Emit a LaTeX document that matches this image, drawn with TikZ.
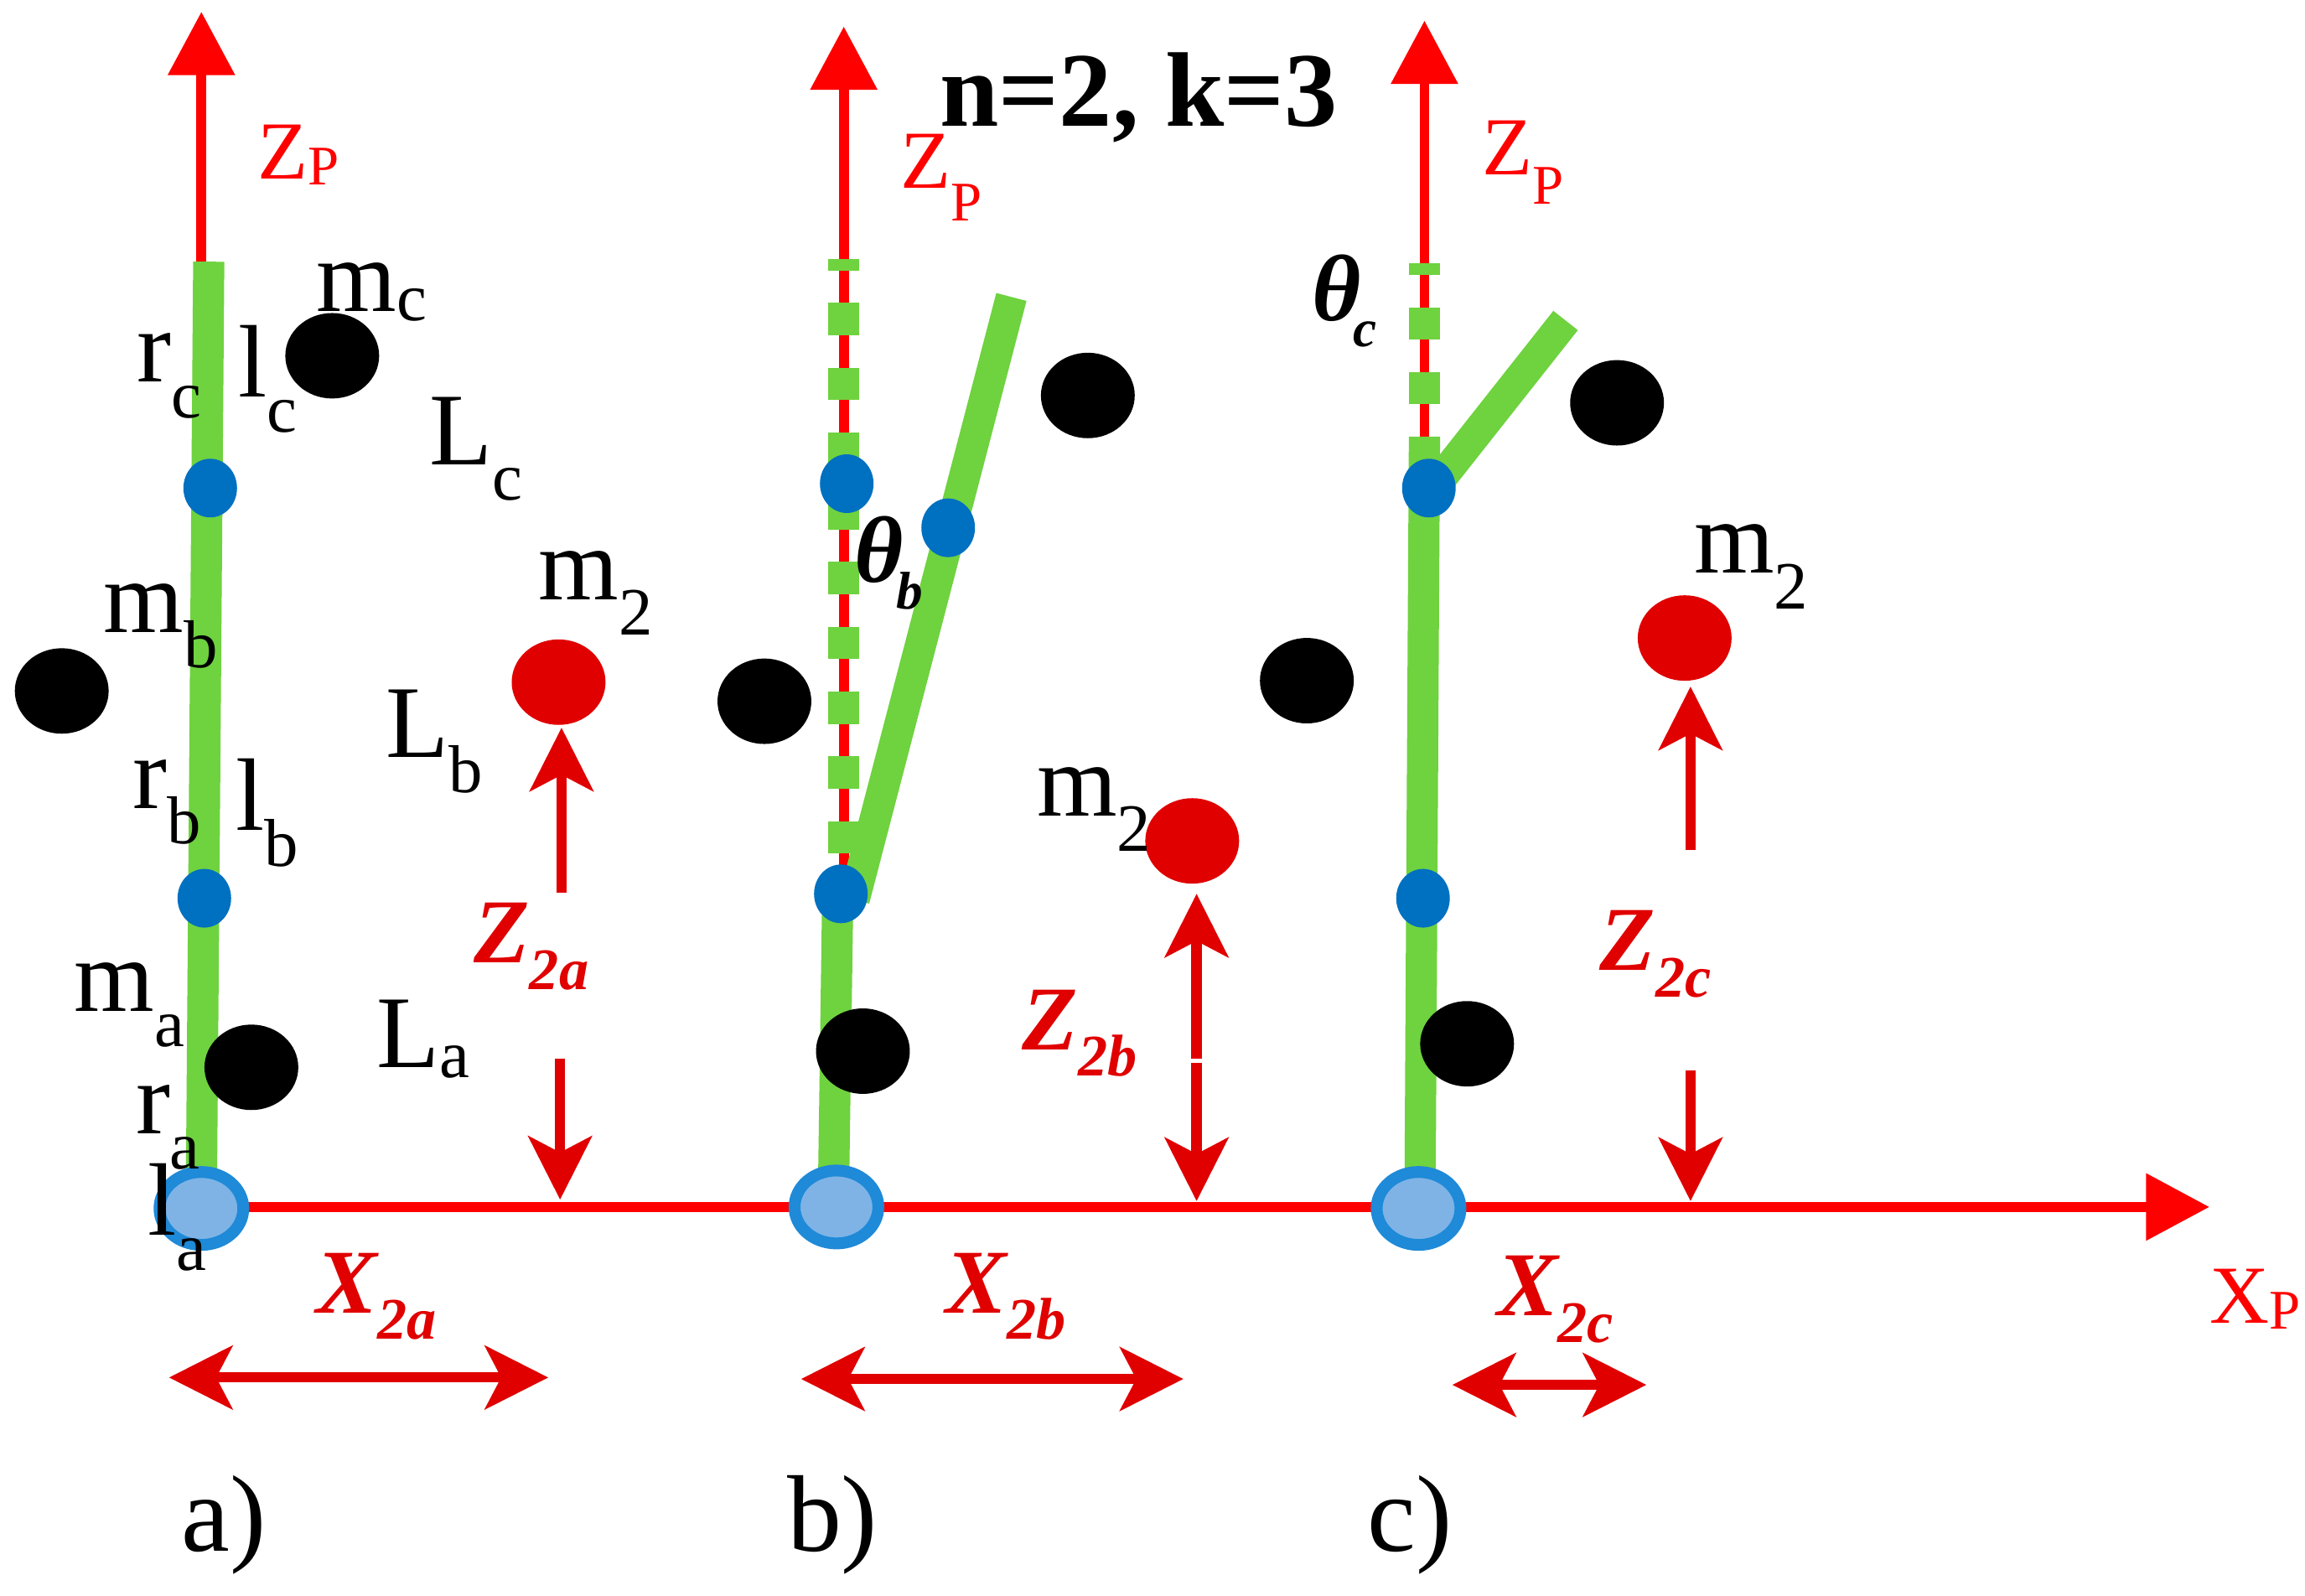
\documentclass[tikz,border=0pt]{standalone}
\usepackage{fontspec}
\setmainfont{Liberation Serif}
\usetikzlibrary{arrows.meta,shapes.geometric}
\definecolor{axisred}{HTML}{FF0000}
\definecolor{dimred}{HTML}{E00000}
\definecolor{rodgreen}{HTML}{6FD23F}
\definecolor{jointblue}{HTML}{0070C0}
\definecolor{basering}{HTML}{1E8AD8}
\definecolor{basefill}{HTML}{7FB3E6}
\newcommand{\lbl}[2]{#1\raisebox{-12pt}{\fontsize{23}{23}\selectfont #2}}
\newcommand{\lblup}[3]{#1\raisebox{#3}{\fontsize{23}{23}\selectfont #2}}
\newcommand{\redlbl}[3]{#1\raisebox{#3}{\fontsize{19}{19}\selectfont #2}}
\newcommand{\dimlbl}[2]{#1\raisebox{-9pt}{\fontsize{20}{20}\selectfont #2}}
\newcommand{\anglbl}[2]{#1\kern-2.5pt\raisebox{-9pt}{\fontsize{18}{18}\selectfont #2}}
\tikzset{
    bob/.style={ellipse,fill=black,inner sep=0,minimum width=1.12cm,minimum height=1.02cm},
    bobred/.style={bob,fill=dimred},
    joint/.style={ellipse,fill=jointblue,inner sep=0,minimum width=0.64cm,minimum height=0.7cm},
    base/.style={ellipse,draw=basering,line width=4pt,fill=basefill,inner sep=0,minimum width=1cm,minimum height=0.87cm},
    axis/.style={draw=axisred,line width=3.4pt,-{Triangle[length=21.5pt,width=22pt]}},
    dimup/.style={draw=dimred,line width=3.5pt,-{Stealth[length=21.5pt,width=21.5pt,inset=5.5pt]}},
    dimboth/.style={draw=dimred,line width=3.4pt,{Stealth[length=21.5pt,width=21.5pt,inset=5.5pt]}-{Stealth[length=21.5pt,width=21.5pt,inset=5.5pt]}},
    rod/.style={draw=rodgreen,line width=10.6pt},
    roddash/.style={rod,dash pattern=on 11pt off 11pt},
    txt/.style={anchor=base west,inner sep=0,font=\fontsize{35}{35}\selectfont},
    txtred/.style={anchor=base west,inner sep=0,text=axisred,font=\fontsize{28}{28}\selectfont},
    txtdim/.style={anchor=base west,inner sep=0,text=dimred,font=\fontsize{31}{31}\selectfont\bfseries\itshape},
    txtang/.style={anchor=base west,inner sep=0,font=\fontsize{32}{32}\selectfont\bfseries\itshape},
    txtpart/.style={anchor=base west,inner sep=0,font=\fontsize{37}{37}\selectfont},
}
\begin{document}
\begin{tikzpicture}[x=0.01754cm,y=-0.01754cm]
    \useasboundingbox (0,0) rectangle (1568,1085.6);

    \coordinate (oa) at (137,821);
    \coordinate (ob) at (574,821);
    \coordinate (oc) at (969,821);
    \coordinate (ztipa) at (137,8);
    \coordinate (ztipb) at (574,18);
    \coordinate (ztipc) at (969,14);
    \coordinate (xtip) at (1503,821);
    \draw[axis] (oa) -- (ztipa);
    \draw[axis] (ob) -- (ztipb);
    \draw[axis] (oc) -- (ztipc);
    \draw[axis] (oa) -- (xtip);

    \coordinate (rodlowa) at (137,810);
    \coordinate (rodtopa) at (142,178);
    \coordinate (rodbotb) at (567,810);
    \coordinate (rodlowb) at (570,600);
    \coordinate (rodtopb) at (688,202);
    \coordinate (rodkneeb) at (581,612);
    \coordinate (rodbotc) at (966,810);
    \coordinate (rodlowc) at (969,297);
    \coordinate (rodkneec) at (975,332);
    \coordinate (rodtopc) at (1065,218);
    \draw[rod] (rodlowa) -- (rodtopa);
    \draw[rod] (rodbotb) -- (rodlowb);
    \draw[rod] (rodkneeb) -- (rodtopb);
    \draw[rod] (rodbotc) -- (rodlowc);
    \draw[rod] (rodkneec) -- (rodtopc);
    \draw[rod] (574,176) -- (574,184);
    \draw[roddash] (574,206) -- (574,582);
    \draw[rod] (574,294) -- (574,360);
    \draw[rod] (969,179) -- (969,187);
    \draw[roddash] (969,209) -- (969,275);

    \node[base] (basea) at (137,822) {};
    \node[base] (baseb) at (569,821) {};
    \node[base] (basec) at (965,822) {};

    \node[joint] (ja1) at (143,332) {};
    \node[joint] (ja2) at (139,611) {};
    \node[joint] (jb1) at (576,329) {};
    \node[joint] (jb2) at (645,359) {};
    \node[joint] (jb3) at (572,608) {};
    \node[joint] (jc1) at (972,332) {};
    \node[joint] (jc2) at (968,611) {};

    \node[bob] (mca) at (226,242) {};
    \node[bob] (mba) at (42,470) {};
    \node[bob] (maa) at (171,726) {};
    \node[bob] (mcb) at (740,269) {};
    \node[bob] (mbb) at (520,477) {};
    \node[bob] (mab) at (587,715) {};
    \node[bob] (mcc) at (1100,274) {};
    \node[bob] (mbc) at (889,463) {};
    \node[bob] (mac) at (998,710) {};
    \node[bobred] (m2a) at (380,464) {};
    \node[bobred] (m2b) at (811,572) {};
    \node[bobred] (m2c) at (1146,434) {};

    \coordinate (za1) at (382,607);
    \coordinate (za2) at (382,495);
    \coordinate (za3) at (381,720);
    \coordinate (za4) at (381,816);
    \coordinate (zb1) at (814,720);
    \coordinate (zb2) at (814,608);
    \coordinate (zb3) at (814,723);
    \coordinate (zb4) at (814,817);
    \coordinate (zc1) at (1150,578);
    \coordinate (zc2) at (1150,467);
    \coordinate (zc3) at (1150,728);
    \coordinate (zc4) at (1150,817);
    \draw[dimup] (za1) -- (za2);
    \draw[dimup] (za3) -- (za4);
    \draw[dimup] (zb1) -- (zb2);
    \draw[dimup] (zb3) -- (zb4);
    \draw[dimup] (zc1) -- (zc2);
    \draw[dimup] (zc3) -- (zc4);

    \coordinate (xa1) at (115,937);
    \coordinate (xa2) at (373,937);
    \coordinate (xb1) at (545,938);
    \coordinate (xb2) at (805,938);
    \coordinate (xc1) at (988,942);
    \coordinate (xc2) at (1120,942);
    \draw[dimboth] (xa1) -- (xa2);
    \draw[dimboth] (xb1) -- (xb2);
    \draw[dimboth] (xc1) -- (xc2);

    \node[txt] (lmc) at (215,212) {\lblup{m}{c}{-3pt}};
    \node[txt] (lrc) at (93,260) {\lbl{r}{c}};
    \node[txt] (llc) at (162,270) {\lbl{l}{c}};
    \node[txt] (lLc) at (292,316) {\lbl{L}{c}};
    \node[txt] (lmb) at (70,430) {\lbl{m}{b}};
    \node[txt] (lrb) at (90,550) {\lbl{r}{b}};
    \node[txt] (llb) at (160,565) {\lbl{l}{b}};
    \node[txt] (lLb) at (262,515) {\lbl{L}{b}};
    \node[txt] (lma) at (50,688) {\lbl{m}{a}};
    \node[txt] (lra) at (92,771) {\lbl{r}{a}};
    \node[txt] (lla) at (100,840) {\lbl{l}{a}};
    \node[txt] (lLa) at (256,726) {\lblup{L}{a}{-3.5pt}};
    \node[txt] (lm2a) at (366,408) {\lbl{m}{2}};
    \node[txt] (lm2b) at (705,555) {\lbl{m}{2}};
    \node[txt] (lm2c) at (1152,390) {\lbl{m}{2}};

    \node[txtred] (lza) at (175,122) {\redlbl{Z}{P}{-2pt}};
    \node[txtred] (lzb) at (612,128) {\redlbl{Z}{P}{-11pt}};
    \node[txtred] (lzc) at (1008,119) {\redlbl{Z}{P}{-10pt}};
    \node[txtred] (lx) at (1503,900) {\redlbl{X}{P}{-2pt}};

    \node[txtdim] (lz2a) at (322,655) {\dimlbl{Z}{2a}};
    \node[txtdim] (lz2b) at (695,714) {\dimlbl{Z}{2b}};
    \node[txtdim] (lz2c) at (1088,660) {\dimlbl{Z}{2c}};
    \node[txtdim] (lx2a) at (215,893) {\dimlbl{X}{2a}};
    \node[txtdim] (lx2b) at (643,893) {\dimlbl{X}{2b}};
    \node[txtdim] (lx2c) at (1018,895) {\dimlbl{X}{2c}};

    \node[txtang] (ltb) at (581,396) {\anglbl{θ}{b}};
    \node[txtang] (ltc) at (892,218) {\anglbl{θ}{c}};
    \node[txt,font=\fontsize{36}{36}\selectfont\bfseries] (ltitle) at (639,86) {n=2, k=3};

    \node[txtpart] (pa) at (123,1055) {a)};
    \node[txtpart] (pb) at (535,1055) {b)};
    \node[txtpart] (pc) at (930,1055) {c)};
\end{tikzpicture}
\end{document}
